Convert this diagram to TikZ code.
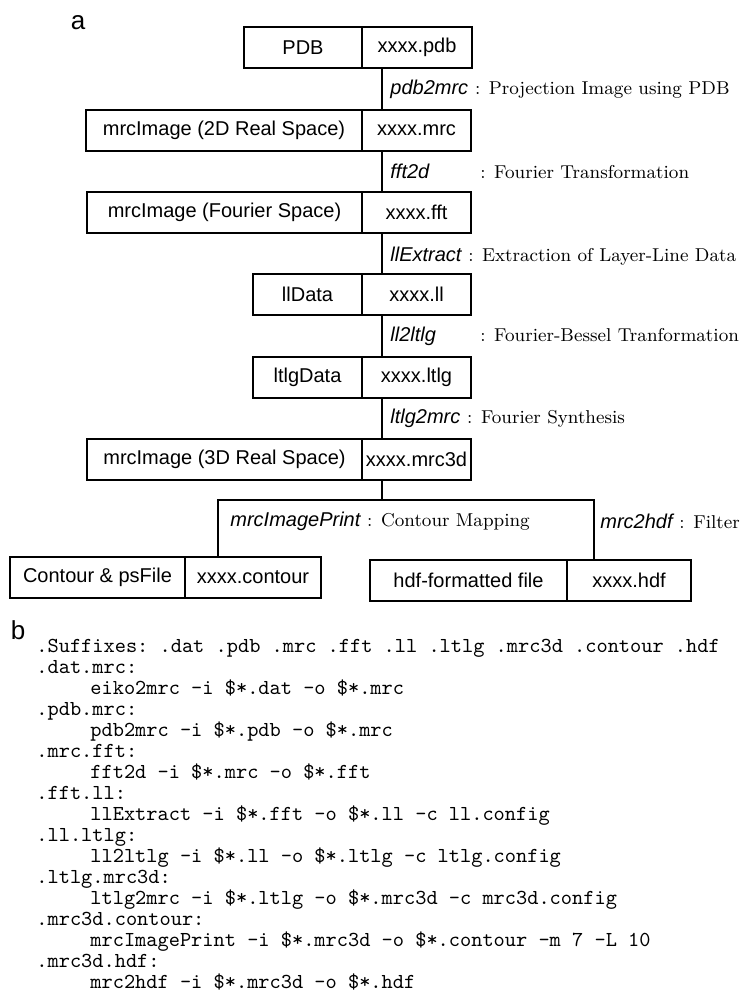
\documentclass[tikz,border=0pt]{standalone}
\usepackage{fontspec}
\newfontfamily\cellfont{Liberation Sans}
\usepackage{tikz}
\usetikzlibrary{calc,positioning}
\tikzset{
  cell/.style={draw,line width=0.8pt,inner sep=0pt,outer sep=0pt,minimum height=20.5pt,font=\cellfont\fontsize{10}{12}\selectfont},
  spn/.style={line width=1.3pt},
  lbl/.style={inner sep=0pt,anchor=west,font=\cellfont\itshape\fontsize{10}{12}\selectfont},
  dsc/.style={inner sep=0pt,font=\fontsize{9.3}{11}\selectfont},
  code/.style={inner sep=0pt,anchor=base west,font=\ttfamily\frenchspacing\fontsize{10.67}{12}\selectfont},
  tag/.style={inner sep=0pt,font=\cellfont\fontsize{13}{15}\selectfont}
}
\begin{document}
\begin{tikzpicture}[x=0.5pt,y=-0.5pt]
\useasboundingbox (0,0) rectangle (746,1000);
\node[tag] (ta) at (78,23) {a};
\foreach \nm/\xl/\xm/\xr/\y/\lt/\rt in {
 pdb/244/362/472/27/PDB/xxxx.pdb,
 mrc/86/362/471/110/{mrcImage (2D Real Space)}/xxxx.mrc,
 fou/87/362/471/192/{mrcImage (Fourier Space)}/xxxx.fft,
 ll/253/362/471/274/llData/xxxx.ll,
 lt/253/362/471/357/ltlgData/xxxx.ltlg,
 m3d/87/362/471/439/{mrcImage (3D Real Space)}/xxxx.mrc3d,
 con/10/185/321/557/{Contour \& psFile}/xxxx.contour,
 hdf/370/567/691/560/hdf-formatted file/xxxx.hdf}{
 \pgfmathsetmacro\wl{(\xm-\xl)/2}
 \pgfmathsetmacro\wr{(\xr-\xm)/2}
 \node[cell,anchor=north west,minimum width=\wl pt] (\nm-l) at (\xl,\y) {\lt};
 \node[cell,anchor=north west,minimum width=\wr pt] (\nm-r) at (\nm-l.north east) {\rt};
}
\coordinate (spine) at (382,0);
\foreach \a/\b in {pdb/mrc,mrc/fou,fou/ll,ll/lt,lt/m3d}
 \draw[spn] (spine |- \a-r.south) -- (spine |- \b-r.north);
\node[lbl] (lpdb) at (390,89) {pdb2mrc};
\node[dsc,base right=3pt of lpdb] (dpdb) {: Projection Image using PDB};
\node[lbl] (lfft) at (390,171) {fft2d};
\node[dsc,anchor=base west] (dfft) at (480,0 |- lfft.base) {: Fourier Transformation};
\node[lbl] (lext) at (390,254) {llExtract};
\node[dsc,base right=3pt of lext] (dext) {: Extraction of Layer-Line Data};
\node[lbl] (lbes) at (390,336) {ll2ltlg};
\node[dsc,anchor=base west] (dbes) at (480,0 |- lbes.base) {: Fourier-Bessel Tranformation};
\node[lbl] (lsyn) at (390,418) {ltlg2mrc};
\node[dsc,base right=3pt of lsyn] (dsyn) {: Fourier Synthesis};
\coordinate (jn) at (382,500);
\coordinate (bl) at (218,500);
\coordinate (br) at (594,500);
\draw[spn] (spine |- m3d-r.south) -- (jn);
\draw[spn] (bl |- con-l.north) -- (bl) -- (br) -- (br |- hdf-l.north);
\node[lbl] (lprt) at (230,521) {mrcImagePrint};
\node[dsc,base right=3pt of lprt] (dprt) {: Contour Mapping};
\node[lbl] (lhdf) at (600,521) {mrc2hdf};
\node[dsc,base right=3pt of lhdf] (dhdf) {: Filter};
\node[tag] (tb) at (18,630) {b};
\foreach \dx/\t [count=\i from 0] in {
 0/{.Suffixes: .dat .pdb .mrc .fft .ll .ltlg .mrc3d .contour .hdf},
 0/{.dat.mrc:},
 54/{eiko2mrc -i \$*.dat -o \$*.mrc},
 0/{.pdb.mrc:},
 54/{pdb2mrc -i \$*.pdb -o \$*.mrc},
 0/{.mrc.fft:},
 54/{fft2d -i \$*.mrc -o \$*.fft},
 0/{.fft.ll:},
 54/{llExtract -i \$*.fft -o \$*.ll -c ll.config},
 0/{.ll.ltlg:},
 54/{ll2ltlg -i \$*.ll -o \$*.ltlg -c ltlg.config},
 0/{.ltlg.mrc3d:},
 54/{ltlg2mrc -i \$*.ltlg -o \$*.mrc3d -c mrc3d.config},
 0/{.mrc3d.contour:},
 54/{mrcImagePrint -i \$*.mrc3d -o \$*.contour -m 7 -L 10},
 0/{.mrc3d.hdf:},
 54/{mrc2hdf -i \$*.mrc3d -o \$*.hdf}}
 \node[code] (c\i) at (36+\dx,652+21*\i) {\t};
\end{tikzpicture}
\end{document}
